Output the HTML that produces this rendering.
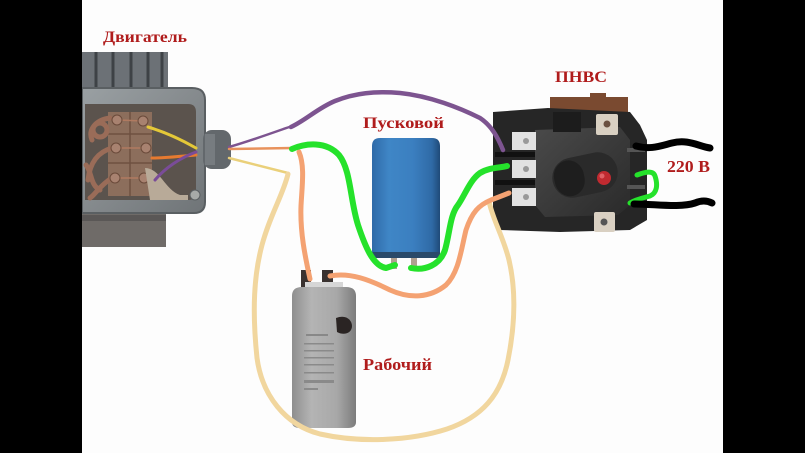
<!DOCTYPE html>
<html><head><meta charset="utf-8">
<style>
html,body{margin:0;padding:0;background:#000;}
svg{display:block;}
text{font-family:"Liberation Serif",serif;font-weight:bold;fill:#b01c1c;}
</style></head>
<body>
<svg width="805" height="453" viewBox="0 0 805 453" xmlns="http://www.w3.org/2000/svg">
<defs>
<linearGradient id="blue" x1="0" x2="1" y1="0" y2="0">
<stop offset="0" stop-color="#2f6aa8"/>
<stop offset="0.25" stop-color="#3f86c6"/>
<stop offset="0.6" stop-color="#3b7fc0"/>
<stop offset="0.88" stop-color="#2f6aa6"/>
<stop offset="1" stop-color="#1f4a78"/>
</linearGradient>
<linearGradient id="gray" x1="0" x2="1" y1="0" y2="0">
<stop offset="0" stop-color="#8e8e8e"/>
<stop offset="0.3" stop-color="#b4b4b4"/>
<stop offset="0.7" stop-color="#a8a8a8"/>
<stop offset="1" stop-color="#7c7c7c"/>
</linearGradient>
<linearGradient id="metal" x1="0" x2="1" y1="0" y2="1">
<stop offset="0" stop-color="#9aa0a3"/>
<stop offset="0.5" stop-color="#858a8d"/>
<stop offset="1" stop-color="#6f7477"/>
</linearGradient>
<linearGradient id="sw" x1="0" x2="1" y1="0" y2="1">
<stop offset="0" stop-color="#4a4a4a"/>
<stop offset="0.5" stop-color="#3a3a3a"/>
<stop offset="1" stop-color="#2a2a2a"/>
</linearGradient>
</defs>

<!-- background -->
<rect x="82" y="0" width="641" height="453" fill="#fdfdfd"/>

<!-- MOTOR -->
<rect x="82" y="52" width="86" height="40" fill="#6c7176"/>
<g stroke="#3e4246" stroke-width="3">
<line x1="96" y1="52" x2="96" y2="90"/>
<line x1="113" y1="52" x2="113" y2="90"/>
<line x1="131" y1="52" x2="131" y2="90"/>
<line x1="148" y1="52" x2="148" y2="90"/>
<line x1="162" y1="52" x2="162" y2="90"/>
</g>
<rect x="82" y="205" width="84" height="42" fill="#6f6b68"/>
<rect x="82" y="215" width="84" height="6" fill="#5a5756"/>
<path d="M82,88 L192,88 Q205,88 205,100 L205,202 Q205,213 194,213 L82,213 Z" fill="url(#metal)" stroke="#5a5f62" stroke-width="2"/>
<path d="M85,104 L188,104 Q196,104 196,112 L196,192 Q196,200 188,200 L85,200 Z" fill="#5b534d"/>
<rect x="108" y="112" width="44" height="84" fill="#8c6e5c"/>
<g stroke="#6e5040" stroke-width="1.5">
<line x1="108" y1="134" x2="152" y2="134"/>
<line x1="108" y1="163" x2="152" y2="163"/>
<line x1="130" y1="112" x2="130" y2="196"/>
</g>
<g fill="none" stroke="#9a6c58" stroke-width="5" stroke-linecap="round">
<path d="M110,118 C95,120 88,130 92,140"/>
<circle cx="100" cy="130" r="7"/>
<path d="M112,148 C98,152 90,162 88,180"/>
<path d="M86,165 C92,172 90,185 100,190"/>
<path d="M112,178 C100,185 95,195 90,198"/>
</g>
<path d="M117,120 L143,121 M116,148 L146,148 M115,178 L144,178" stroke="#b07a60" stroke-width="1.5"/>
<g fill="#a88270" stroke="#6a4a3a" stroke-width="1">
<circle cx="117" cy="120" r="5"/><circle cx="143" cy="121" r="5"/>
<circle cx="116" cy="148" r="5"/><circle cx="146" cy="148" r="5"/>
<circle cx="115" cy="178" r="5"/><circle cx="144" cy="178" r="5"/>
</g>
<path d="M145,168 C160,168 165,190 180,195 L188,195 L188,200 L150,200 Z" fill="#b8aa98"/>
<g fill="none" stroke-linecap="round" stroke-width="3">
<path d="M148,127 C165,132 182,140 196,148" stroke="#e4c838"/>
<path d="M152,158 C168,158 182,156 196,155" stroke="#e67a30"/>
<path d="M155,180 C165,168 180,158 196,152" stroke="#7a4c98"/>
</g>
<circle cx="195" cy="195" r="5" fill="#a7aaa8" stroke="#5a5f62"/>
<rect x="203" y="130" width="28" height="39" rx="9" fill="#63686c"/>
<rect x="205" y="134" width="10" height="31" fill="#777c80"/>

<!-- thin wires from motor -->
<g fill="none" stroke-linecap="round">
<path d="M229,147 C250,141 272,133 292,126" stroke="#7d5490" stroke-width="2.5"/>
<path d="M229,149 L293,148" stroke="#e8925c" stroke-width="2.5"/>
<path d="M229,158 L288,173" stroke="#ead07a" stroke-width="2.5"/>
</g>

<!-- RABOCHIY capacitor -->
<rect x="301" y="270" width="10" height="22" fill="#3a3230"/>
<rect x="322" y="270" width="11" height="22" fill="#3a3230"/>
<rect x="305" y="282" width="38" height="8" fill="#d6d6d6"/>
<path d="M292,296 Q292,287 302,287 L346,287 Q356,287 356,296 L356,422 Q356,428 348,428 L300,428 Q292,428 292,422 Z" fill="url(#gray)"/>
<path d="M336,318 C346,314 352,320 352,326 C352,333 344,336 337,332 Z" fill="#2a2423"/>
<g fill="#777" font-size="3">
<rect x="306" y="334" width="22" height="2" fill="#888"/>
<rect x="304" y="343" width="30" height="1.5" fill="#8a8a8a"/>
<rect x="304" y="350" width="30" height="1.5" fill="#8a8a8a"/>
<rect x="304" y="357" width="30" height="1.5" fill="#8a8a8a"/>
<rect x="304" y="364" width="30" height="1.5" fill="#8a8a8a"/>
<rect x="304" y="372" width="30" height="1.5" fill="#8a8a8a"/>
<rect x="304" y="380" width="30" height="3" fill="#8a8a8a"/>
<rect x="304" y="388" width="14" height="2" fill="#8a8a8a"/>
</g>

<!-- PUSKOVOY capacitor -->
<rect x="391" y="256" width="6" height="13" fill="#b0a090"/>
<rect x="411" y="256" width="6" height="13" fill="#b0a090"/>
<path d="M372,146 Q372,138 380,138 L432,138 Q440,138 440,146 L440,258 L372,258 Z" fill="url(#blue)"/>
<rect x="372" y="252" width="68" height="6" fill="#2a4a6a"/>

<!-- SWITCH -->
<rect x="550" y="97" width="78" height="20" fill="#7a4a30"/>
<rect x="590" y="93" width="16" height="8" fill="#7a4a30"/>
<path d="M493,112 L548,108 L630,112 L640,125 L647,140 L647,220 L630,230 L560,232 L500,230 L493,220 Z" fill="#262626"/>
<path d="M535,130 L620,127 L630,140 L630,205 L618,215 L545,217 L535,205 Z" fill="url(#sw)"/>
<rect x="512" y="132" width="24" height="18" fill="#e2e2e2"/>
<rect x="512" y="160" width="24" height="18" fill="#e2e2e2"/>
<rect x="512" y="188" width="24" height="18" fill="#e2e2e2"/>
<circle cx="526" cy="141" r="3" fill="#999"/>
<circle cx="526" cy="169" r="3" fill="#999"/>
<circle cx="526" cy="197" r="3" fill="#999"/>
<rect x="495" y="152" width="40" height="5" fill="#111"/>
<rect x="495" y="180" width="40" height="5" fill="#111"/>
<rect x="627" y="148" width="18" height="4" fill="#555"/>
<rect x="627" y="185" width="18" height="4" fill="#555"/>
<rect x="553" y="112" width="28" height="20" fill="#1c1c1c"/>
<rect x="596" y="114" width="22" height="21" rx="2" fill="#d9d0c2"/>
<circle cx="607" cy="124" r="3.5" fill="#6a5040"/>
<rect x="594" y="212" width="21" height="20" rx="2" fill="#d9d0c2"/>
<circle cx="604" cy="222" r="3.5" fill="#555"/>
<rect x="552" y="155" width="66" height="40" rx="20" fill="#2a2a2a" transform="rotate(-12 585 175)"/>
<rect x="554" y="157" width="30" height="36" rx="16" fill="#1e1e1e" transform="rotate(-12 585 175)"/>
<circle cx="604" cy="178" r="7" fill="#c02a30"/>
<circle cx="602" cy="176" r="2.5" fill="#e06066"/>

<!-- thick wires -->
<g fill="none" stroke-linecap="round" stroke-linejoin="round">
<!-- tan loop -->
<path d="M288,174 C283,195 270,215 262,245 C254,275 252,310 257,358 C262,395 285,425 320,434 C360,443 410,441 447,429 C482,417 501,395 508,360 C515,325 516,290 509,260 C503,236 492,218 489,201" stroke="#f1d69e" stroke-width="5"/>
<!-- orange -->
<path d="M299,152 C305,166 302,186 301,206 C300,232 305,256 310,279" stroke="#f4a272" stroke-width="5"/>
<path d="M330,276 C350,272 370,280 390,290 C410,299 430,298 446,285 C459,272 461,250 466,230 C472,212 479,205 491,200 C499,197 504,195 509,193" stroke="#f4a272" stroke-width="5"/>
<!-- purple -->
<path d="M291,127 C306,120 318,108 335,101 C355,93 375,91 400,93 C430,96 460,108 480,118 C492,126 498,138 503,150" stroke="#7d5490" stroke-width="4.5"/>
<!-- green -->
<path d="M292,149 C306,143 326,141 339,155 C351,170 350,200 358,225 C365,246 373,266 386,268 L395,265" stroke="#25e22b" stroke-width="6"/>
<path d="M411,268 C425,271 440,265 445,250 C450,232 450,215 458,205 C465,195 470,180 480,173 C490,167 500,168 507,166" stroke="#25e22b" stroke-width="6"/>
<path d="M637,175 C645,172 653,170 655,176 C658,185 657,193 650,196 C642,198 635,200 630,203" stroke="#25e22b" stroke-width="5"/>
<!-- black 220V -->
<path d="M636,146 C650,150 660,146 672,143 C688,139 698,146 710,148" stroke="#000" stroke-width="7"/>
<path d="M634,204 C655,204 680,208 695,203 C702,200 708,201 712,203" stroke="#000" stroke-width="7"/>
</g>

<!-- labels -->
<text x="103" y="42" font-size="16" textLength="84" lengthAdjust="spacingAndGlyphs">Двигатель</text>
<text x="363" y="128" font-size="16" textLength="81" lengthAdjust="spacingAndGlyphs">Пусковой</text>
<text x="555" y="82" font-size="16" textLength="52" lengthAdjust="spacingAndGlyphs">ПНВС</text>
<text x="667" y="172" font-size="17" textLength="43" lengthAdjust="spacingAndGlyphs">220 В</text>
<text x="363" y="370" font-size="17" textLength="69" lengthAdjust="spacingAndGlyphs">Рабочий</text>

<!-- black side bars -->
<rect x="0" y="0" width="82" height="453" fill="#000"/>
<rect x="723" y="0" width="82" height="453" fill="#000"/>
</svg>
</body></html>
